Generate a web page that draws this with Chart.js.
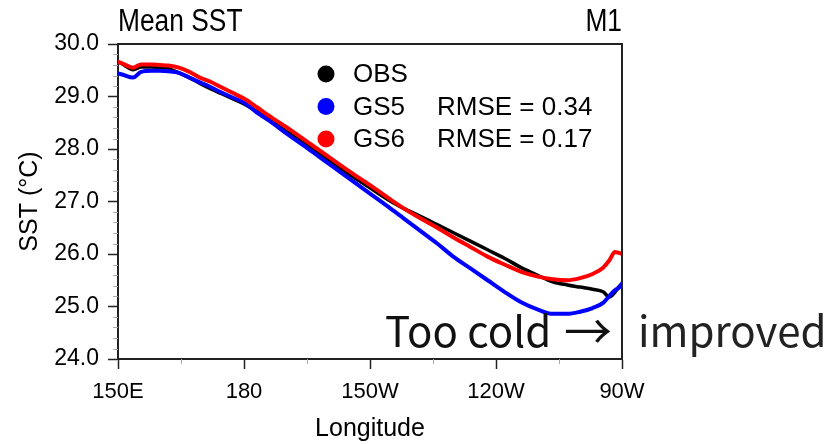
<!DOCTYPE html>
<html>
<head>
<meta charset="utf-8">
<title>Mean SST</title>
<script src="https://cdn.jsdelivr.net/npm/chart.js@4.4.1/dist/chart.umd.min.js"></script>
<style>
  body { margin: 0; background: #fff; }
</style>
</head>
<body>
<canvas id="sstChart" width="830" height="444"></canvas>
<script>
// longitude in degrees east (150E .. 90W = 270)
var lon = [150, 151, 153.6, 155.5, 158, 160, 162, 164.5, 167, 169.5, 172, 174.5, 177, 180, 183, 186, 190, 195,
           200, 205, 210, 215, 218, 222, 226, 230, 234, 238, 242, 246, 250, 253.5, 257, 260, 263, 265.5, 267,
           268.3, 269.3, 270];

var obs = [29.66, 29.62, 29.51, 29.56, 29.56, 29.55, 29.53, 29.45, 29.36, 29.25, 29.15, 29.06, 28.97, 28.86,
           28.72, 28.56, 28.34, 28.07, 27.79, 27.52, 27.26, 27.00, 26.87, 26.72, 26.56, 26.40, 26.24, 26.08,
           25.92, 25.74, 25.59, 25.47, 25.41, 25.37, 25.33, 25.28, 25.18, 25.27, 25.38, 25.42];

var gs5 = [29.44, 29.42, 29.36, 29.47, 29.49, 29.49, 29.48, 29.45, 29.36, 29.27, 29.18, 29.08, 28.99, 28.88,
           28.70, 28.54, 28.30, 28.02, 27.73, 27.44, 27.15, 26.86, 26.68, 26.44, 26.20, 25.94, 25.72, 25.50,
           25.28, 25.08, 24.94, 24.86, 24.86, 24.90, 24.97, 25.07, 25.20, 25.31, 25.36, 25.44];

var gs6 = [29.66, 29.63, 29.55, 29.61, 29.61, 29.60, 29.59, 29.55, 29.47, 29.36, 29.28, 29.18, 29.08, 28.96,
           28.80, 28.63, 28.42, 28.14, 27.86, 27.58, 27.31, 27.03, 26.87, 26.68, 26.50, 26.31, 26.13, 25.95,
           25.80, 25.66, 25.57, 25.52, 25.50, 25.54, 25.62, 25.74, 25.88, 26.04, 26.02, 26.00];

var seriesNames = ['OBS', 'GS5', 'GS6'];
var seriesColors = ['#000000', '#0000ff', '#ff0000'];
var rmse = [null, 0.34, 0.17];

var xTickValues = [150, 180, 210, 240, 270];
var xTickLabels = ['150E', '180', '150W', '120W', '90W'];
var xMinorTicks = [165, 195, 225, 255];

function toPoints(vals) {
  return lon.map(function (x, i) { return { x: x, y: vals[i] }; });
}

// frame, minor ticks, titles, legend and the note
var decorations = {
  id: 'decorations',
  afterDraw: function (chart) {
    var ctx = chart.ctx;
    var a = chart.chartArea;
    var xs = chart.scales.x;
    var ys = chart.scales.y;
    ctx.save();

    ctx.strokeStyle = '#222';
    ctx.lineWidth = 2;
    ctx.beginPath();
    ctx.moveTo(a.left, a.top);
    ctx.lineTo(a.right, a.top);
    ctx.lineTo(a.right, a.bottom);
    ctx.stroke();

    ctx.strokeStyle = '#aaa';
    ctx.lineWidth = 1;
    ctx.beginPath();
    for (var k = 1; k < 30; k++) {
      if (k % 5 === 0) continue;
      var y = Math.round(ys.getPixelForValue(24 + k * 0.2)) + 0.5;
      ctx.moveTo(a.left - 5, y);
      ctx.lineTo(a.left, y);
    }
    xMinorTicks.forEach(function (v) {
      var x = Math.round(xs.getPixelForValue(v)) + 0.5;
      ctx.moveTo(x, a.bottom);
      ctx.lineTo(x, a.bottom + 5);
    });
    ctx.stroke();

    // titles
    ctx.fillStyle = '#000';
    ctx.textBaseline = 'alphabetic';
    ctx.font = '31px "Liberation Sans", Arial, sans-serif';
    ctx.save();
    ctx.translate(a.left, 31);
    ctx.scale(0.85, 1);
    ctx.textAlign = 'left';
    ctx.fillText('Mean SST', 0, 0);
    ctx.restore();
    ctx.save();
    ctx.translate(a.right, 31);
    ctx.scale(0.85, 1);
    ctx.textAlign = 'right';
    ctx.fillText('M1', 0, 0);
    ctx.restore();

    // legend
    ctx.font = '26px "Liberation Sans", Arial, sans-serif';
    ctx.textBaseline = 'middle';
    ctx.textAlign = 'left';
    seriesNames.forEach(function (name, i) {
      var y = 74 + i * 32.5;
      ctx.fillStyle = seriesColors[i];
      ctx.beginPath();
      ctx.arc(326, y, 8.5, 0, Math.PI * 2);
      ctx.fill();
      ctx.fillStyle = '#000';
      ctx.fillText(name, 353, y + 1);
      if (rmse[i] !== null) {
        ctx.fillText('RMSE = ' + rmse[i].toFixed(2), 437, y + 1);
      }
    });

    // note
    ctx.font = '42px "Noto Sans CJK KR", "Open Sans", sans-serif';
    ctx.textBaseline = 'alphabetic';
    ctx.fillStyle = '#111';
    ctx.fillText('Too cold', 385, 347);
    ctx.font = '48px "Noto Sans CJK KR", "Open Sans", sans-serif';
    ctx.fillText('\u2192', 564, 349);
    ctx.font = '42px "Noto Sans CJK KR", "Open Sans", sans-serif';
    ctx.fillStyle = '#222';
    ctx.fillText('improved', 638, 347);

    ctx.restore();
  }
};

var xTickFont = { family: '"Liberation Sans", Arial, sans-serif', size: 22 };
var yTickFont = { family: '"Liberation Sans", Arial, sans-serif', size: 23 };
var titleFont = { family: '"Liberation Sans", Arial, sans-serif', size: 25 };

var chart = new Chart(document.getElementById('sstChart').getContext('2d'), {
  type: 'line',
  data: {
    datasets: [
      { label: seriesNames[0], data: toPoints(obs), borderColor: seriesColors[0], borderWidth: 3.5, order: 2 },
      { label: seriesNames[1], data: toPoints(gs5), borderColor: seriesColors[1], borderWidth: 4, order: 1 },
      { label: seriesNames[2], data: toPoints(gs6), borderColor: seriesColors[2], borderWidth: 4, order: 0 }
    ]
  },
  options: {
    responsive: false,
    animation: false,
    layout: { padding: { top: 44, right: 208, left: 0, bottom: 0 } },
    elements: {
      point: { radius: 0 },
      line: { cubicInterpolationMode: 'monotone', borderCapStyle: 'round', borderJoinStyle: 'round' }
    },
    plugins: { legend: { display: false }, tooltip: { enabled: false } },
    scales: {
      x: {
        type: 'linear',
        min: 150,
        max: 270,
        afterFit: function (scale) { scale.height = 85; },
        afterBuildTicks: function (scale) {
          scale.ticks = xTickValues.map(function (v) { return { value: v }; });
        },
        ticks: {
          color: '#000',
          font: xTickFont,
          padding: 10,
          maxRotation: 0,
          callback: function (value) { return xTickLabels[xTickValues.indexOf(value)]; }
        },
        grid: { drawOnChartArea: false, tickLength: 10, tickColor: '#222', tickWidth: 1.5 },
        border: { color: '#222', width: 2 },
        title: { display: true, text: 'Longitude', color: '#000', font: titleFont, padding: { top: 4, bottom: 0 } }
      },
      y: {
        min: 24,
        max: 30,
        afterFit: function (scale) { scale.width = 118; },
        ticks: {
          stepSize: 1,
          color: '#000',
          font: yTickFont,
          padding: 9,
          callback: function (value) { return value.toFixed(1); }
        },
        grid: { drawOnChartArea: false, tickLength: 10, tickColor: '#222', tickWidth: 1.5 },
        border: { color: '#222', width: 2 },
        title: { display: true, text: 'SST (\u00b0C)', color: '#000', font: titleFont, padding: { top: 15, bottom: 4 } }
      }
    }
  },
  plugins: [decorations]
});
</script>
</body>
</html>
